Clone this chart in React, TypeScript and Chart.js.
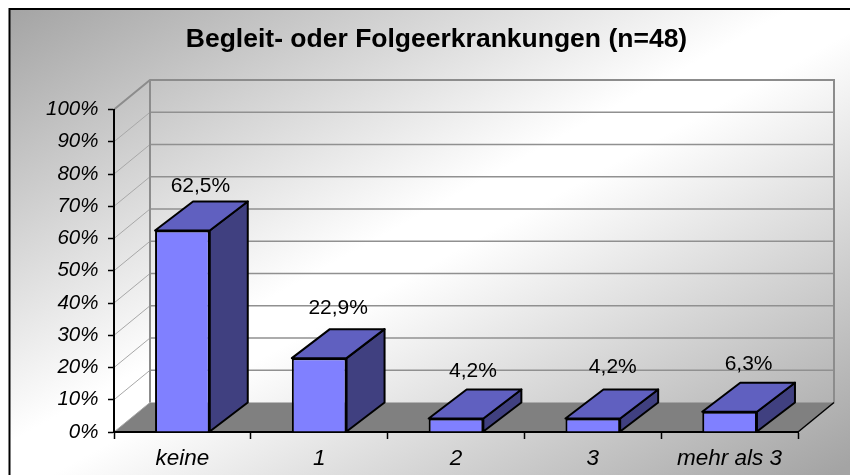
import React, { useEffect, useRef } from "react";
import { Chart, registerables } from "chart.js";

Chart.register(...registerables);

const categories = ["keine", "1", "2", "3", "mehr als 3"];
const shares = [62.5, 22.9, 4.2, 4.2, 6.3];
const titleText = "Begleit- oder Folgeerkrankungen (n=48)";

const FONT = "'Liberation Sans', Arial, sans-serif";
const WALL_DX = 36;
const WALL_DY = 29.5;
const BAR_DX = 38;
const BAR_DY = 29;
const LABEL_RISE = [44.5, 49.5, 47.5, 51.5, 47.5];
const LABEL_SHIFT = [18, 19, 17, 20, 19];
const TITLE_LEFT_INSET = 75;

const scene = {
  id: "scene",
  afterLayout(chart: any) {
    if (chart.titleBlock) chart.titleBlock.left = TITLE_LEFT_INSET;
  },
  beforeDraw(chart: any) {
    const { ctx, width, height, chartArea: a, scales } = chart;
    ctx.save();
    ctx.fillStyle = "#fff";
    ctx.fillRect(0, 0, width, height);
    const g = ctx.createLinearGradient(230, -112, 620, 592);
    g.addColorStop(0, "#a4a4a4");
    g.addColorStop(0.47, "#ffffff");
    g.addColorStop(0.53, "#ffffff");
    g.addColorStop(1, "#a4a4a4");
    ctx.fillStyle = g;
    ctx.fillRect(9, 9, width - 9, height - 9);
    ctx.strokeStyle = "#000";
    ctx.lineWidth = 2;
    ctx.beginPath();
    ctx.moveTo(9.5, height);
    ctx.lineTo(9.5, 9);
    ctx.lineTo(width, 9);
    ctx.stroke();

    // floor
    ctx.fillStyle = "#808080";
    ctx.beginPath();
    ctx.moveTo(a.left, a.bottom);
    ctx.lineTo(a.right, a.bottom);
    ctx.lineTo(a.right + WALL_DX, a.bottom - WALL_DY);
    ctx.lineTo(a.left + WALL_DX, a.bottom - WALL_DY);
    ctx.closePath();
    ctx.fill();

    // gridlines on side wall and back wall
    const y = scales.y;
    y.ticks.forEach((t: any) => {
      const py = y.getPixelForValue(t.value);
      if (t.value === 100) return;
      ctx.strokeStyle = "#a8a8a8";
      ctx.lineWidth = 1;
      ctx.beginPath();
      ctx.moveTo(a.left, py);
      ctx.lineTo(a.left + WALL_DX, py - WALL_DY);
      ctx.stroke();
      if (t.value > 0) {
        ctx.strokeStyle = "#909090";
        ctx.lineWidth = 1.3;
        ctx.beginPath();
        ctx.moveTo(a.left + WALL_DX, py - WALL_DY);
        ctx.lineTo(a.right + WALL_DX, py - WALL_DY);
        ctx.stroke();
      }
    });

    // wall outline
    ctx.strokeStyle = "#8c8c8c";
    ctx.lineWidth = 2;
    ctx.beginPath();
    ctx.moveTo(a.left, a.top);
    ctx.lineTo(a.left + WALL_DX, a.top - WALL_DY);
    ctx.lineTo(a.right + WALL_DX, a.top - WALL_DY);
    ctx.lineTo(a.right + WALL_DX, a.bottom - WALL_DY);
    ctx.moveTo(a.left + WALL_DX, a.top - WALL_DY);
    ctx.lineTo(a.left + WALL_DX, a.bottom - WALL_DY);
    ctx.stroke();

    // front-right floor edge
    ctx.strokeStyle = "#000";
    ctx.lineWidth = 1.5;
    ctx.beginPath();
    ctx.moveTo(a.right, a.bottom);
    ctx.lineTo(a.right + WALL_DX, a.bottom - WALL_DY);
    ctx.stroke();
    ctx.restore();
  },
  afterDatasetsDraw(chart: any) {
    const { ctx } = chart;
    const meta = chart.getDatasetMeta(0);
    ctx.save();
    ctx.strokeStyle = "#000";
    ctx.lineWidth = 2;
    ctx.lineJoin = "round";
    meta.data.forEach((bar: any, i: number) => {
      const l = bar.x - bar.width / 2;
      const r = bar.x + bar.width / 2;
      const t = bar.y;
      const b = bar.base;
      ctx.fillStyle = "#404080";
      ctx.beginPath();
      ctx.moveTo(r, t);
      ctx.lineTo(r + BAR_DX, t - BAR_DY);
      ctx.lineTo(r + BAR_DX, b - BAR_DY);
      ctx.lineTo(r, b);
      ctx.closePath();
      ctx.fill();
      ctx.stroke();
      ctx.fillStyle = "#6060c0";
      ctx.beginPath();
      ctx.moveTo(l, t);
      ctx.lineTo(l + BAR_DX, t - BAR_DY);
      ctx.lineTo(r + BAR_DX, t - BAR_DY);
      ctx.lineTo(r, t);
      ctx.closePath();
      ctx.fill();
      ctx.stroke();

      ctx.fillStyle = "#000";
      ctx.font = `21px ${FONT}`;
      ctx.textAlign = "center";
      ctx.textBaseline = "middle";
      ctx.fillText(
        shares[i].toFixed(1).replace(".", ",") + "%",
        bar.x + LABEL_SHIFT[i],
        t - LABEL_RISE[i]
      );
    });
    ctx.restore();
  },
};

export default function App() {
  const ref = useRef<HTMLCanvasElement>(null);
  useEffect(() => {
    document.body.style.margin = "0";
    const chart = new Chart(ref.current as HTMLCanvasElement, {
      type: "bar",
      data: {
        labels: categories,
        datasets: [
          {
            data: shares,
            backgroundColor: "#8080ff",
            borderColor: "#000",
            borderWidth: 2,
            barPercentage: 0.4,
            categoryPercentage: 1,
          },
        ],
      },
      plugins: [scene],
      options: {
        responsive: false,
        animation: false,
        layout: { padding: { left: 0, right: 52, top: 0, bottom: 0 } },
        plugins: {
          legend: { display: false },
          tooltip: { enabled: false },
          title: {
            display: true,
            text: titleText,
            color: "#000",
            font: { family: FONT, size: 26.5, weight: "bold" },
            padding: { top: 23.5, bottom: 54.2 },
          },
        },
        scales: {
          x: {
            offset: true,
            afterFit: (s: any) => {
              s.height = 43;
            },
            grid: {
              offset: true,
              drawOnChartArea: false,
              drawTicks: true,
              tickLength: 7,
              tickColor: "#000",
              tickWidth: 1.5,
            },
            border: { color: "#000", width: 2 },
            ticks: {
              color: "#000",
              padding: 6,
              maxRotation: 0,
              font: { family: FONT, size: 22.5, style: "italic" },
            },
          },
          y: {
            min: 0,
            max: 100,
            afterFit: (s: any) => {
              s.width = 114;
            },
            grid: {
              drawOnChartArea: false,
              drawTicks: true,
              tickLength: 6,
              tickColor: "#000",
              tickWidth: 1.5,
            },
            border: { color: "#000", width: 2 },
            ticks: {
              stepSize: 10,
              color: "#000",
              padding: 9.5,
              font: { family: FONT, size: 20.5, style: "italic" },
              callback: (v: any) => `${v}%`,
            },
          },
        },
      },
    } as any);
    return () => chart.destroy();
  }, []);
  return <canvas ref={ref} width={850} height={475} style={{ display: "block" }} />;
}
